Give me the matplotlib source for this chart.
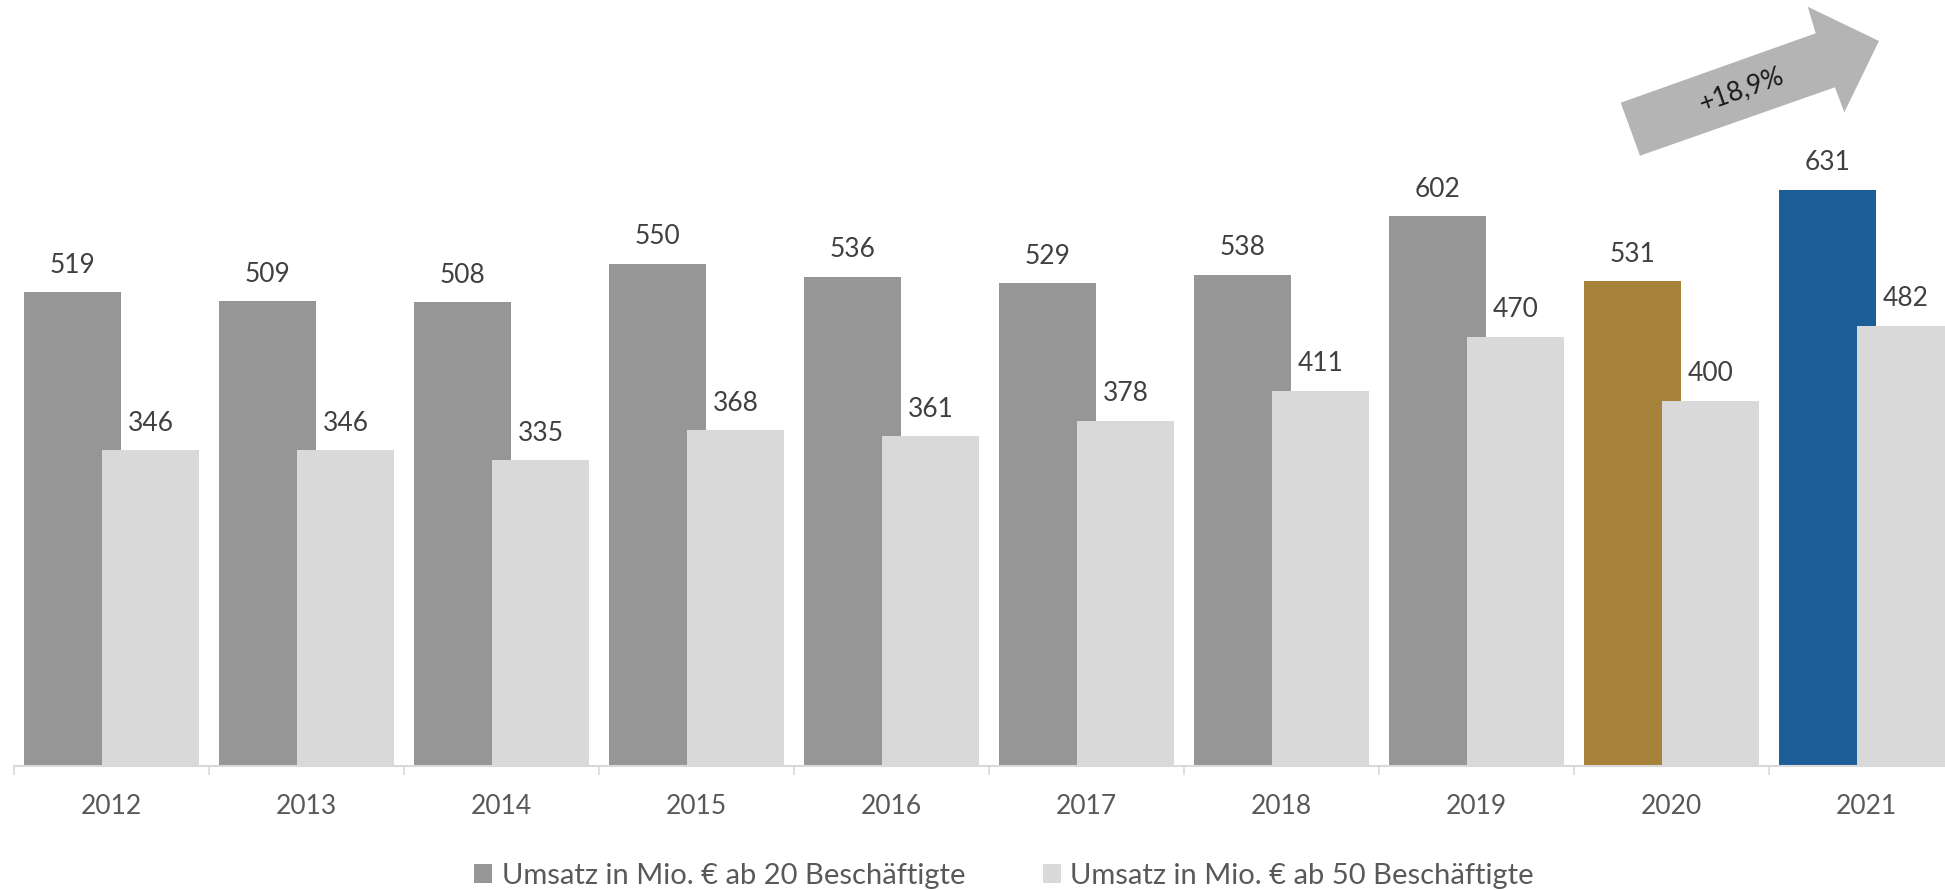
#!/usr/bin/env python3
"""Umsatz-Balkendiagramm 2012-2021 mit Wachstumspfeil"""

import numpy as np
import matplotlib
matplotlib.use('Agg')
import matplotlib.pyplot as plt
from matplotlib.patches import Polygon, Patch

# Daten
years = ['2012', '2013', '2014', '2015', '2016', '2017', '2018', '2019', '2020', '2021']
umsatz_20 = [519, 509, 508, 550, 536, 529, 538, 602, 531, 631]
umsatz_50 = [346, 346, 335, 368, 361, 378, 411, 470, 400, 482]
series_names = ['Umsatz in Mio. € ab 20 Beschäftigte', 'Umsatz in Mio. € ab 50 Beschäftigte']
growth_label = '+18,9%'

# Farben
DARK = '#969696'
LIGHT = '#D9D9D9'
GOLD = '#A6823A'
BLUE = '#1E5E98'
ARROW = '#B4B4B4'
dark_colors = [DARK] * 8 + [GOLD, BLUE]

W, H = 1945, 890
plt.rcParams['font.family'] = ['Lato', 'DejaVu Sans']

fig = plt.figure(figsize=(W / 100, H / 100), dpi=100)
ax = fig.add_axes([14 / W, (H - 766) / H, (W - 14) / W, 766 / H])

x = np.arange(len(years))
bw = 0.497
off = 0.2

bars_a = ax.bar(x - off, umsatz_20, width=bw, color=dark_colors, zorder=2)
bars_b = ax.bar(x + off, umsatz_50, width=bw, color=LIGHT, zorder=3)

for bars, vals in ((bars_a, umsatz_20), (bars_b, umsatz_50)):
    for b, v in zip(bars, vals):
        ax.annotate(f'{v}', (b.get_x() + b.get_width() / 2, v),
                    xytext=(0, 14), textcoords='offset points',
                    ha='center', va='baseline', fontsize=19, color='#404040',
                    zorder=5)

for s in ('top', 'right', 'left'):
    ax.spines[s].set_visible(False)
ax.spines['bottom'].set_color(LIGHT)
ax.spines['bottom'].set_linewidth(1.5)
ax.set_yticks([])

ax.set_xticks(x)
ax.set_xticklabels(years, fontsize=19, color='#595959')
ax.tick_params(axis='x', which='major', length=0, pad=20)
ax.set_xticks(np.arange(len(years) + 1) - 0.5, minor=True)
ax.tick_params(axis='x', which='minor', length=6.5, width=1.2, color=LIGHT)

# Grenzen erst nach den Ticks setzen (sonst wird die Achse erweitert)
ax.set_xlim(-0.5, -0.5 + (W - 14) / 195)
ax.set_ylim(0, 839)

# Wachstumspfeil (Pixelkoordinaten, y von oben)
arrow_px = [(1620.7, 102.7), (1815.7, 33.3), (1807.7, 6.7), (1879, 41),
            (1844.3, 112.3), (1835, 87.3), (1640, 155.7)]
poly = Polygon([(px / W, 1 - py / H) for px, py in arrow_px], closed=True,
               facecolor=ARROW, edgecolor='none', transform=fig.transFigure)
fig.patches.append(poly)
fig.text(1741 / W, 1 - 90 / H, growth_label, rotation=19.6, ha='center', va='center',
         fontsize=19, color='#1a1a1a', rotation_mode='anchor')

handles = [Patch(facecolor=DARK), Patch(facecolor=LIGHT)]
fig.legend(handles, series_names, loc='center', bbox_to_anchor=(1004 / W, 1 - 876 / H),
           ncol=2, frameon=False, fontsize=21, labelcolor='#595959',
           handlelength=0.62, handleheight=0.62, handletextpad=0.31,
           columnspacing=2.67, borderpad=0, borderaxespad=0)

fig.savefig('out.png', dpi=100)
